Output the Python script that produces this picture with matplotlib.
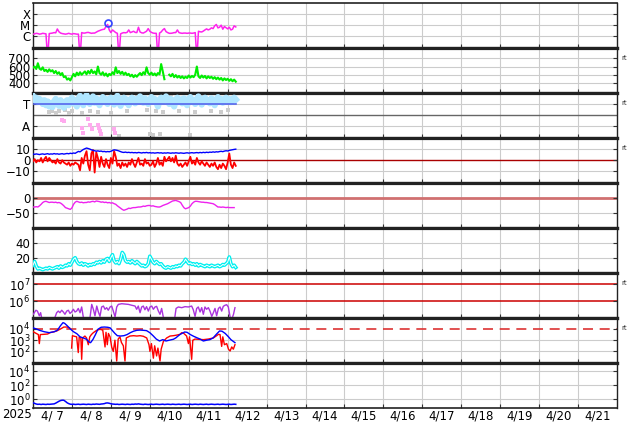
import numpy as np
import matplotlib
matplotlib.use('Agg')
import matplotlib.pyplot as plt
from matplotlib.ticker import NullLocator

# ---------------- labels ----------------
day_labels = ['4/ 7', '4/ 8', '4/ 9', '4/10', '4/11', '4/12', '4/13', '4/14',
              '4/15', '4/16', '4/17', '4/18', '4/19', '4/20', '4/21']
year_label = '2025'
panel_side_note = 'rt'

# ---------------- data (hourly from 4/7 00UT unless hours given) ----------------
# X-ray flux in 1e-6 W/m2
xray_uW = [1.6, 1.7, 1.9, 1.8, 1.6, 1.7, 1.9, 1.8, 1.7, 0.01,
           1.8, 1.9, 2.0, 2.2, 2.1, 4.6, 2.6, 2.0, 1.8, 1.7,
           1.6, 1.7, 1.9, 1.7, 1.6, 1.8, 1.7, 1.6, 1.6, 0.01,
           2.2, 2.0, 2.0, 2.2, 2.3, 2.1, 1.9, 2.0, 2.0, 2.4,
           2.9, 3.3, 3.8, 4.2, 4.4, 7.6, 11.6, 3.8, 2.2, 3.8,
           2.9, 2.2, 1.9, 0.01, 1.7, 2.0, 2.2, 2.1, 2.3, 3.8,
           2.2, 2.5, 2.9, 2.3, 2.2, 6.6, 2.5, 2.1, 2.0, 2.4,
           2.9, 5.0, 2.9, 2.3, 2.0, 1.9, 1.9, 0.01, 2.0, 2.5,
           3.8, 5.0, 2.7, 2.2, 1.9, 1.9, 2.0, 2.2, 2.2, 3.8,
           2.2, 2.0, 1.9, 2.0, 2.0, 1.9, 2.0, 2.0, 1.9, 2.0,
           2.2, 0.01, 2.9, 2.6, 2.5, 3.0, 3.8, 4.7, 3.8, 4.4,
           5.8, 5.0, 8.8, 11.6, 5.8, 6.6, 10.1, 4.4, 7.6, 6.0,
           4.7, 6.6, 3.8, 4.4, 8.8, 7.0]
flare_hour = [46.4]
flare_uW = [16.4]

# solar wind speed km/s
sw_speed = [585, 600, 570, 640, 575, 560, 590, 545, 560, 535,
            565, 540, 555, 520, 545, 510, 530, 495, 520, 470,
            480, 440, 455, 430, 470, 510, 480, 525, 495, 530,
            500, 520, 540, 505, 545, 515, 560, 520, 540, 505,
            600, 520, 500, 530, 490, 515, 480, 510, 495, 530,
            505, 590, 520, 545, 510, 535, 500, 525, 495, 510,
            480, 500, 470, 495, 475, 500, 520, 495, 530, 505,
            590, 520, 500, 525, 495, 515, 490, 520, 505, 630,
            540, 445, np.nan, np.nan, 500, 480, 510, 470, 495, 465,
            485, 460, 480, 455, 475, 460, 490, 465, 485, 470,
            500, 600, 480, 460, 490, 465, 485, 455, 480, 460,
            475, 450, 470, 445, 465, 440, 460, 430, 455, 435,
            450, 425, 445, 420, 440, 415]

# IMF sector angle (deg): T ~ 270, A ~ 90
phi_deg = [330, 300, 320, 285, 310, 295, 270, 300, 260, 290, 250,
           275, 245, 290, 310, 280, 255, 300, 270, 240, 285,
           300, 260, 290, 320, 275, 300, 250, 310, 335, 290,
           260, 320, 340, 300, 270, 310, 330, 280, 315, 295,
           260, 300, 325, 285, 310, 270, 295, 320, 300, 265,
           310, 335, 290, 255, 300, 320, 280, 305, 260, 295,
           320, 300, 275, 310, 290, 330, 305, 280, 315, 295,
           270, 300, 325, 290, 310, 285, 250, 300, 320, 290,
           305, 330, 300, 270, 310, 290, 250, 300, 320, 285,
           305, 275, 315, 295, 260, 310, 325, 290, 300, 270,
           310, 330, 295, 265, 305, 320, 290, 300, 275, 315,
           295, 260, 305, 325, 290, 310, 280, 300, 320, 295,
           310, 285, 300, 320, 305]
phi_ref_deg = 270
phi_gray_hours = [10, 12, 14, 16, 20, 22, 24, 27, 30, 32, 35, 37, 40, 44, 48, 53,
                  58, 64, 70, 72, 74, 76, 78, 80, 85, 90, 97, 100, 105, 110, 116, 120]
phi_gray_deg = [205, 215, 198, 210, 220, 200, 212, 350, 195, 355, 215, 345, 208, 350, 200, 14,
                210, 352, 220, 30, 25, 215, 30, 205, 348, 212, 22, 208, 350, 215, 205, 218]
phi_pink_hours = [17.9, 19.0, 30.0, 31.0, 34.0, 35.0, 36.4, 40.0, 40.8, 41.3, 42.0, 50.0, 50.6]
phi_pink_deg = [142, 134, 78, 38, 150, 102, 70, 102, 78, 54, 30, 70, 38]

# IMF Bt, Bz (nT)
bt = [5.5, 5.2, 5.6, 5.3, 5.0, 5.4, 5.6, 5.2, 5.5, 5.8, 5.3, 5.6, 5.4, 5.9, 5.5, 5.7, 5.3, 5.6, 5.8, 5.4, 5.7,
      6.0, 5.7, 6.2, 5.9, 6.4, 6.1, 7.0, 7.8, 7.4, 8.5,
      9.5, 10.2, 10.8, 10.4, 9.9, 9.2, 8.8, 8.4, 8.0, 8.3,
      7.9, 8.1, 7.6, 7.8, 7.4, 7.7, 7.5, 7.9, 8.6, 9.2,
      9.0, 8.7, 8.2, 7.6, 7.1, 6.9, 7.2, 6.8, 7.0, 6.7,
      6.9, 6.6, 6.8, 6.5, 6.9, 6.7, 6.4, 6.8, 6.6, 6.9, 6.5, 6.7, 6.4, 6.6, 6.3, 6.5, 6.7, 6.4, 6.6, 6.2,
      6.5, 6.3, 6.6, 6.4, 6.2, 6.5, 6.3, 6.6, 6.4, 6.2, 6.5, 6.3, 6.1, 6.4, 6.6, 6.3, 6.5, 6.7, 6.4, 6.6,
      6.8, 6.5, 6.9, 6.6, 7.0, 6.7, 7.1, 6.8, 7.2, 7.0, 7.4, 7.1, 7.5, 7.3, 7.7,
      7.9, 7.6, 8.1, 8.4, 8.2, 8.7, 9.0, 9.3, 9.6, 9.8]
bz = [-1, 1, -2, 0, -1, 2,
      -2, 1, 3, -1, 2, 0, -2,
      -1, -3, 1, -2, -3, 0, -2, -3,
      -4, -2, -5, -3, -4, -2, -3, -4,
      -9,
      2, -3, 4, 8, -4, -9, 6,
      9, -11, 7, 2, -6, 3,
      -3, -6, 1, -4, -7, 2, -3,
      8, 3, -5,
      -3, -7, -2, -5, -3, -6,
      -2, -4, 1, -3, -6, -2, 2, -4, -3, -5, 1, -3,
      -2, -5, -4, -1, -6, -3, 2, -4, -2, -5, 3, -1,
      1, 3, -1, 2, -2, 4, -3,
      -5, -3, -6, -4, -2, -5, -1,
      3, -3, -1, -4, 2, -2, -4, -1,
      -3, -5, -2, -4, -6, -3, -5, -2,
      -6, -8, -4, -7, -3, -5, -8, -2,
      6, -4, -7, -2, -5]

# Dst (nT)
dst = [-31, -31, -30, -31, -27, -22, -16, -13, -12, -14,
       -16, -15, -15, -16, -15, -17, -16, -18, -22, -27,
       -33, -35, -37, -39, -34, -22, -15, -12, -14, -16,
       -15, -17, -16, -16, -14, -15, -13, -12, -14, -11,
       -12, -13, -15, -14, -16, -15, -17, -16, -18, -17,
       -20, -22, -27, -31, -35, -39, -42, -40, -38, -35,
       -36, -34, -33, -33, -32, -31, -31, -30, -28, -29,
       -27, -26, -26, -28, -27, -29, -30, -31, -31, -29,
       -26, -24, -22, -20, -17, -14, -11, -10, -9, -11,
       -13, -16, -25, -33, -37, -35, -33, -28, -20, -15,
       -12, -12, -13, -14, -15, -15, -16, -16, -17, -18,
       -19, -20, -23, -27, -31, -31, -32, -31, -32, -33,
       -32, -33, -33, -33, -33]

# cyan index
cyan_vals = [10, 15, 9, 5, 6, 5,
             4, 5, 6, 5, 7, 6, 5,
             6, 7, 8, 6, 9, 7, 8, 10,
             9, 12, 10, 14, 18, 20, 15,
             12, 11, 13, 10, 12, 11, 9,
             11, 10, 12, 11, 14, 13,
             15, 13, 16, 14, 18, 19, 15,
             20, 24, 16, 13, 15, 12,
             18, 27, 24, 16, 14,
             15, 13, 16, 14, 12, 15, 13, 11,
             9, 10, 8, 9, 12, 22,
             18, 14, 12, 15, 13, 11, 12, 9,
             7, 6, 8, 7, 6, 8, 7, 9,
             8, 10, 9, 12, 14, 18, 15, 12,
             13, 11, 12, 10, 12, 9, 11, 10,
             9, 8, 10, 9, 8, 10, 9, 8,
             9, 10, 8, 9, 11, 10, 12, 14,
             21, 12, 8, 10, 7]

# purple flux (1e5 units)
purple_hours = [0.2, 0.8, 1.8, 2.7, 3.9, 4.7, 5.5, 9.0,
                13.6, 14.6, 15.6, 16.6, 17.7, 18.7, 19.7, 20.8, 21.8, 22.8, 23.8, 24.9,
                25.9, 26.9, 27.9, 29.0, 30.0, 31.0, 32.0, 33.5, 35.0, 36.2, 37.2, 38.2,
                39.3, 40.3, 41.3, 42.3, 43.4, 44.4, 45.4, 46.4, 47.5, 48.5, 49.5, 50.6,
                51.6, 52.6, 54.7, 56.7, 58.8, 60.8, 62.9, 63.9, 64.9, 66.0, 67.0, 68.0,
                69.0, 70.0, 71.1, 72.1, 73.2, 74.2, 75.2, 76.2, 77.3, 78.3, 79.3, 80.4, 84.0,
                87.5, 88.2, 89.6, 91.7, 93.7, 95.8, 97.8, 98.8, 99.9, 100.9, 101.9, 103.0,
                104.0, 105.0, 106.0, 107.0, 108.1, 109.1, 110.2, 111.2, 112.2, 113.2, 114.3,
                115.3, 116.3, 117.3, 118.4, 119.4, 120.4, 121.5, 122.5, 123.6, 124.5]
purple_e5 = [1.6, 2.0, 2.8, 2.5, 1.3, 2.0, 0.8, np.nan,
             1.1, 2.0, 2.5, 2.0, 2.8, 2.2, 1.6, 2.5, 2.8, 1.8, 2.2, 3.2,
             2.2, 2.5, 3.6, 2.0, 4.4, 1.1, 0.8, np.nan, 0.8, 6.3, 3.2, 1.3,
             5.0, 2.2, 1.2, 4.4, 5.0, 3.2, 4.0, 2.8, 4.4, 5.0, 2.5, 1.1,
             4.4, 6.3, 6.9, 6.6, 6.3, 5.6, 5.0, 3.2, 5.0, 2.0, 4.4, 5.0,
             3.0, 4.6, 2.5, 4.4, 5.0, 3.2, 4.4, 4.8, 2.5, 1.6, 3.6, 1.0, np.nan,
             1.2, 3.6, 4.4, 4.0, 4.6, 4.4, 5.0, 3.0, 1.2, 3.6, 4.4, 2.2,
             4.0, 1.6, 4.4, 3.2, 4.0, 2.5, 1.2, 2.0, 3.6, 1.3, 3.6,
             4.4, 2.5, 4.8, 5.6, 6.0, 4.4, 1.1, 0.8, 1.6, 4.0]

# electron fluxes (log10)
elec_hi_hours = [0, 2, 4, 7, 10, 13, 15, 17, 18.5, 19.5, 21, 23, 25, 27, 29, 31, 33, 34.5,
                 35.5, 37, 38.5, 40, 42, 44, 46, 47.5, 49, 50.5, 52, 54, 56, 58, 60, 62, 64,
                 66, 68, 70, 72, 74, 76, 78, 80, 82, 84, 86.5, 88, 90.5, 93.5, 95, 97, 99,
                 101, 103, 105, 107, 109, 111, 113, 115, 116.5, 118.5, 120.5, 122, 124.5]
elec_hi_log10 = [4.1, 4.0, 3.88, 3.75, 3.67, 3.75, 3.88, 4.3, 4.56, 4.5, 4.3, 4.0, 3.75, 3.58,
                 3.3, 3.2, 3.08, 2.85, 2.78, 3.08, 3.5, 3.97, 4.15, 4.17, 4.15, 4.1, 3.85, 3.6,
                 3.4, 3.37, 3.4, 3.5, 3.67, 3.8, 3.88, 3.9, 3.88, 3.85, 3.67, 3.4, 3.1, 2.93,
                 3.05, 2.93, 3.0, 3.08, 3.2, 3.5, 3.73, 3.7, 3.5, 3.35, 3.22, 3.1, 2.93, 3.0,
                 3.05, 3.2, 3.52, 3.82, 3.8, 3.6, 3.3, 3.05, 2.78]
elec_lo_hours = [0, 2, 3.3, 3.9, 4.5, 6.5, 9, 10.5, 13, 14.6, 17, 19, 21, 22.5, 23.2,
                 23.8, 24.3, 25.5, 26.9, 27.9, 28.5, 29.5, 30, 30.6, 32, 33, 34.1, 35, 36,
                 37.2, 39.3, 41.3, 43, 44.4, 45, 45.8, 46.5, 47.5, 48.5, 49.5, 50.5, 51.6,
                 52.5, 53.6, 54.5, 55.7, 56.7, 57.5, 59.8, 62, 64, 66, 68, 70.1, 71.5, 72.1,
                 73, 74.2, 75, 76.2, 77, 78.3, 79, 80.4, 82.4, 84.5, 86.5, 88.5, 90.6, 91.7,
                 93, 94.7, 95.8, 96.5, 97.8, 98.5, 99.9, 102, 105, 108, 111.2, 113.2, 114.3,
                 115.3, 116.3, 117, 118, 119.4, 120.5, 121.5, 122.5, 123.5, 124.5]
elec_lo_log10 = [3.76, 3.6, 3.5, 2.7, 3.5, 3.52, 3.55, 3.67, 3.75, 3.82, 4.0, 4.17, 4.17, 4.1, np.nan,
                 2.3, 3.4, 3.35, 3.3, 1.9, 3.3, 3.2, 1.3, 3.2, 3.37, 3.2, 2.6, 3.3, 3.5,
                 3.67, 3.88, 3.97, 3.9, 2.4, 3.7, 2.6, 3.6, 3.3, 2.4, 2.0, 3.0, 1.15,
                 3.1, 3.3, 2.8, 2.5, 1.15, 3.2, 3.37, 3.4, 3.37, 3.4, 3.35, 3.2, 2.6, 2.0,
                 2.7, 1.4, 2.5, 1.6, 2.3, 1.15, 2.2, 2.9, 3.2, 3.37, 3.4, 3.45, 3.52, 3.67,
                 3.6, 3.37, 2.7, 3.3, 1.3, 3.0, 3.1, 3.08, 3.05, 3.1, 3.2, 3.4, 3.52,
                 3.5, 2.45, 3.3, 2.6, 2.7, 2.2, 2.04, 2.4, 2.2, 2.6]

# proton flux
proton = [0.32, 0.26, 0.21, 0.19, 0.2, 0.18, 0.2, 0.19, 0.18, 0.2, 0.19, 0.2, 0.21,
          0.22, 0.28, 0.38, 0.52, 0.66, 0.74, 0.72, 0.5, 0.32, 0.24, 0.2,
          0.19, 0.2, 0.18, 0.19, 0.2, 0.18, 0.19, 0.2, 0.19, 0.18, 0.2, 0.19, 0.18, 0.2, 0.19, 0.21, 0.2, 0.19, 0.21, 0.22,
          0.24, 0.29, 0.3, 0.27, 0.23, 0.21, 0.2,
          0.19, 0.2, 0.18, 0.19, 0.2, 0.19, 0.18, 0.2, 0.19, 0.18, 0.2, 0.19, 0.21, 0.2, 0.22, 0.2, 0.19, 0.18, 0.2, 0.19,
          0.18, 0.19, 0.2, 0.18, 0.19, 0.2, 0.19, 0.18, 0.19, 0.2, 0.18, 0.19, 0.2, 0.19, 0.18, 0.2, 0.19, 0.18, 0.19, 0.2,
          0.18, 0.19, 0.2, 0.19, 0.18, 0.19, 0.2, 0.18, 0.19, 0.2,
          0.19, 0.18, 0.2, 0.19, 0.18, 0.19, 0.2, 0.18, 0.19, 0.2, 0.19, 0.18, 0.19, 0.2, 0.18, 0.19, 0.2, 0.19, 0.18, 0.19,
          0.2, 0.18, 0.19, 0.2, 0.19]

# ---------------- figure ----------------
W, H = 634, 424
fig = plt.figure(figsize=(W / 100, H / 100), dpi=100)
left_px, right_px, top_px, ph = 33, 617, 2.7, 45.0
n = 9
axes = []
for i in range(n):
    b = 1 - (top_px + ph * (i + 1)) / H
    ax = fig.add_axes([left_px / W, b, (right_px - left_px) / W, ph / H])
    axes.append(ax)

grid_c = '#cccccc'
tick_fs = 8.5
ndays = len(day_labels)

def hours(arr):
    return np.arange(len(arr)) / 24.0

for i, ax in enumerate(axes):
    ax.set_xlim(0, ndays)
    for d in range(1, ndays):
        ax.axvline(d, color=grid_c, lw=0.8, zorder=0)
    ax.set_xticks(range(1, ndays))
    ax.tick_params(axis='x', which='major', direction='in', length=3, labelbottom=False, color='#333333')
    ax.tick_params(axis='y', which='both', direction='in', length=3, right=True, labelsize=tick_fs,
                   color='#333333', pad=2)
    for s in ('left', 'right'):
        ax.spines[s].set_linewidth(1.0)
        ax.spines[s].set_color('#222222')
    for s in ('top', 'bottom'):
        ax.spines[s].set_linewidth(2.3)
        ax.spines[s].set_color('#222222')
    ax.set_facecolor('white')
axes[0].spines['top'].set_linewidth(1.2)
axes[-1].spines['bottom'].set_linewidth(1.2)

def hgrid(ax, vals, color=grid_c, lw=0.8, **kw):
    for v in vals:
        ax.axhline(v, color=color, lw=lw, zorder=0.5, **kw)

# 1 X-ray
ax = axes[0]
ax.set_yscale('log')
ax.set_ylim(1e-7, 1e-3)
hgrid(ax, [1e-6, 1e-5, 1e-4])
ax.plot(hours(xray_uW), np.array(xray_uW) * 1e-6, color='#ff22ee', lw=1.1, zorder=3)
ax.plot(np.array(flare_hour) / 24, np.array(flare_uW) * 1e-6, 'o', mfc='none', mec='#3344ff',
        ms=5, mew=1.2, zorder=4)
ax.set_yticks([1e-6, 1e-5, 1e-4])
ax.set_yticklabels(['C', 'M', 'X'])
ax.yaxis.set_minor_locator(NullLocator())

# 2 speed
ax = axes[1]
ax.set_ylim(280, 830)
hgrid(ax, [400, 500, 600, 700])
ax.plot(hours(sw_speed), sw_speed, color='#00ee00', lw=1.5, zorder=3)
ax.set_yticks([400, 500, 600, 700])

# 3 sector
ax = axes[2]
ax.set_ylim(0, 360)
hgrid(ax, [90, 270])
ax.axhline(180, color='#666666', lw=1.0, zorder=0.6)
ax.plot(np.array(phi_gray_hours) / 24, phi_gray_deg, 's', color='#cccccc', ms=3, mew=0, zorder=2)
ax.plot(hours(phi_deg), phi_deg, color='#b0e6ff', lw=4.5, zorder=3)
ax.plot(hours(phi_deg), phi_deg, 's', color='#b0e6ff', ms=3.5, mew=0, zorder=3)
ax.plot(np.array(phi_pink_hours) / 24, phi_pink_deg, 's', color='#ffaaee', ms=3, mew=0, zorder=3)
ax.plot([0, (len(phi_deg) - 1) / 24], [phi_ref_deg, phi_ref_deg], color='#5566ee', lw=1.2, zorder=4)
ax.set_yticks([90, 270])
ax.set_yticklabels(['A', 'T'])

# 4 Bz / Bt
ax = axes[3]
ax.set_ylim(-20, 20)
hgrid(ax, [-10, 10])
ax.axhline(0, color='#aa0000', lw=1.0, zorder=0.6)
ax.plot(hours(bz), bz, color='#ff0000', lw=1.3, zorder=3)
ax.plot(hours(bt), bt, color='#0000ff', lw=1.0, zorder=4)
ax.set_yticks([-10, 0, 10])
ax.set_yticklabels(['\u221210', '0', '10'])

# 5 Dst
ax = axes[4]
ax.set_ylim(-100, 50)
hgrid(ax, [-50])
ax.axhline(0, color='#d07070', lw=2.0, zorder=0.6)
ax.plot(hours(dst), dst, color='#ee22ee', lw=1.0, zorder=3)
ax.set_yticks([-50, 0])
ax.set_yticklabels(['\u221250', '0'])

# 6 cyan
ax = axes[5]
ax.set_ylim(0, 60)
hgrid(ax, [20, 40])
ax.plot(hours(cyan_vals), cyan_vals, color='#00f0f0', lw=2.6, zorder=3)
ax.plot(hours(cyan_vals), cyan_vals, color='white', lw=0.7, zorder=4)
ax.set_yticks([20, 40])

# 7 purple
ax = axes[6]
ax.set_yscale('log')
ax.set_ylim(1e5, 10 ** 7.7)
ax.axhline(1e6, color='#cc0000', lw=1.1, zorder=0.6)
ax.axhline(1e7, color='#cc0000', lw=1.1, zorder=0.6)
ax.plot(np.array(purple_hours) / 24, np.array(purple_e5) * 1e5, color='#aa33dd', lw=1.0, zorder=3)
ax.set_yticks([1e6, 1e7])
ax.set_yticklabels([r'$10^6$', r'$10^7$'])
ax.yaxis.set_minor_locator(NullLocator())

# 8 electrons
ax = axes[7]
ax.set_yscale('log')
ax.set_ylim(1e1, 1e5)
hgrid(ax, [1e2, 1e3])
ax.axhline(1e4, color='#dd3333', lw=1.2, dashes=(6, 4), zorder=0.6)
ax.plot(np.array(elec_lo_hours) / 24, 10 ** np.array(elec_lo_log10), color='#ff0000', lw=1.0, zorder=3)
ax.plot(np.array(elec_hi_hours) / 24, 10 ** np.array(elec_hi_log10), color='#0000ff', lw=1.0, zorder=4)
ax.set_yticks([1e2, 1e3, 1e4])
ax.set_yticklabels([r'$10^2$', r'$10^3$', r'$10^4$'])
ax.yaxis.set_minor_locator(NullLocator())

# 9 protons
ax = axes[8]
ax.set_yscale('log')
ax.set_ylim(10 ** -1.2, 10 ** 5.2)
hgrid(ax, [1e0, 1e2, 1e4])
ax.plot(hours(proton), proton, color='#0000ff', lw=1.1, zorder=3)
ax.set_yticks([1e0, 1e2, 1e4])
ax.set_yticklabels([r'$10^0$', r'$10^2$', r'$10^4$'])
ax.yaxis.set_minor_locator(NullLocator())

# x labels on bottom panel
ax = axes[8]
ax.set_xticks([d + 0.5 for d in range(ndays)], minor=True)
ax.set_xticklabels(day_labels, minor=True)
ax.tick_params(axis='x', which='minor', length=0, labelbottom=True, labelsize=8.5, pad=1.5)
fig.text(17 / W, 1 - 415 / H, year_label, ha='center', va='center', fontsize=8.5)

# side notes
for k in (1, 2, 3, 6, 7):
    axes[k].text(1.008, 0.78, panel_side_note, transform=axes[k].transAxes, fontsize=5,
                 color='#333333', va='center', ha='left')

fig.savefig('out.png', dpi=100)
